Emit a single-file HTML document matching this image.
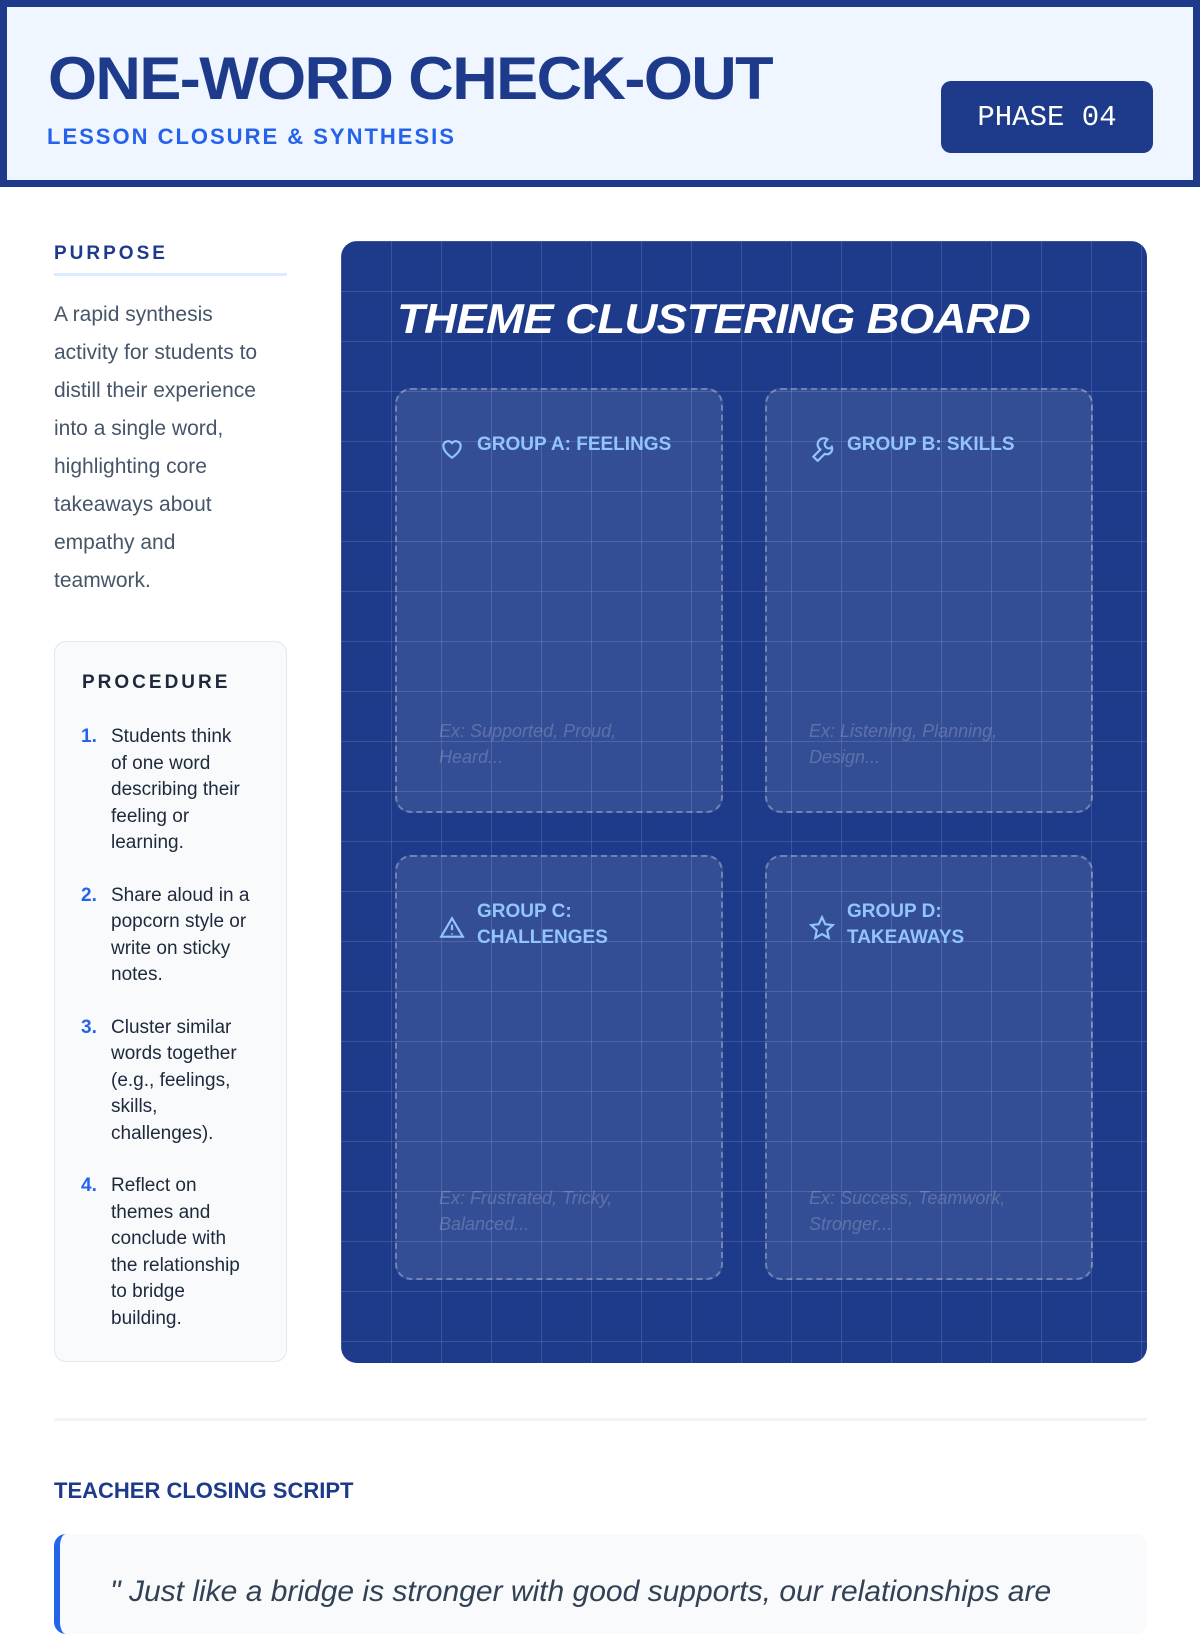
<!DOCTYPE html>
<html><head><meta charset="utf-8"><style>
*{margin:0;padding:0;box-sizing:border-box}
body{width:1200px;height:1600px;overflow:hidden;background:#fff;font-family:"Liberation Sans",sans-serif;position:relative}
.abs{position:absolute}
.hdr{left:0;top:0;width:1200px;height:187px;background:#eff6ff;border:7px solid #1e3a8a}
.title{left:48px;top:44px;font-size:60px;font-weight:900;color:#1e3a8a;letter-spacing:-1.5px;transform:scaleX(1.05);transform-origin:left;white-space:nowrap}
.sub{left:47px;top:124px;font-size:22px;font-weight:bold;color:#2563eb;letter-spacing:2px}
.badge{left:941px;top:81px;width:212px;height:72px;background:#1e3a8a;border-radius:10px;color:#fff;font-family:"Liberation Mono",monospace;font-size:29px;display:flex;align-items:center;justify-content:center}
.lbl{font-size:19px;font-weight:bold;color:#1e3a8a;letter-spacing:3px}
.para{left:54px;top:296px;width:260px;font-size:21px;line-height:38px;color:#475569;white-space:nowrap}
.proc{left:54px;top:641px;width:233px;height:721px;background:#f8fafc;border:1px solid #e2e8f0;border-radius:12px}
.proc ol{list-style:none;position:absolute;left:26px;top:82px;width:190px}
.proc li{position:relative;padding-left:30px;font-size:19px;line-height:26.5px;color:#1e293b;margin-bottom:26px;white-space:nowrap}
.proc li b{position:absolute;left:0;color:#2563eb}
.board{left:341px;top:241px;width:806px;height:1122px;border-radius:16px;overflow:hidden;background-color:#1e3a8a;background-image:linear-gradient(rgba(255,255,255,.13) 1px,transparent 1px),linear-gradient(90deg,rgba(255,255,255,.13) 1px,transparent 1px);background-size:50px 50px;background-position:0 0}
.bt{left:56px;top:54px;font-size:42px;font-weight:900;font-style:italic;color:#fff;letter-spacing:-0.5px;transform:scaleX(1.08);transform-origin:left;white-space:nowrap}
.grp{width:328px;height:425px;border:2px dashed rgba(255,255,255,.3);background:rgba(255,255,255,.1);border-radius:16px}
.gh{position:absolute;left:80px;top:42px;font-size:19px;font-weight:bold;color:#93c5fd;line-height:26px;width:200px}
.gi{position:absolute;left:42px;top:46px}
.ex{position:absolute;left:42px;top:328px;font-size:18px;font-style:italic;color:rgba(255,255,255,.2);line-height:26px;width:230px}
</style></head><body>
<div class="abs hdr"></div>
<div class="abs title">ONE-WORD CHECK-OUT</div>
<div class="abs sub">LESSON CLOSURE &amp; SYNTHESIS</div>
<div class="abs badge">PHASE 04</div>

<div class="abs lbl" style="left:54px;top:243px">PURPOSE</div>
<div class="abs" style="left:54px;top:273px;width:233px;height:3px;background:#dbeafe"></div>
<div class="abs para">A rapid synthesis<br>activity for students to<br>distill their experience<br>into a single word,<br>highlighting core<br>takeaways about<br>empathy and<br>teamwork.</div>

<div class="abs proc">
<div class="abs lbl" style="left:27px;top:30px;color:#1e293b">PROCEDURE</div>
<ol>
<li><b>1.</b>Students think<br>of one word<br>describing their<br>feeling or<br>learning.</li>
<li><b>2.</b>Share aloud in a<br>popcorn style or<br>write on sticky<br>notes.</li>
<li><b>3.</b>Cluster similar<br>words together<br>(e.g., feelings,<br>skills,<br>challenges).</li>
<li><b>4.</b>Reflect on<br>themes and<br>conclude with<br>the relationship<br>to bridge<br>building.</li>
</ol></div>

<div class="abs board">
<div class="abs bt">THEME CLUSTERING BOARD</div>
<div class="abs grp" style="left:54px;top:147px">
<svg class="gi" width="26" height="26" viewBox="0 0 24 24" fill="none" stroke="#93c5fd" stroke-width="2"><path d="M12 20s-8-5-8-11a4.5 4.5 0 0 1 8-2.5A4.5 4.5 0 0 1 20 9c0 6-8 11-8 11z"/></svg>
<div class="gh">GROUP A: FEELINGS</div><div class="ex">Ex: Supported, Proud, Heard...</div></div>
<div class="abs grp" style="left:424px;top:147px">
<svg class="gi" width="26" height="26" viewBox="0 0 24 24" fill="none" stroke="#93c5fd" stroke-width="2"><path d="M14.7 6.3a4 4 0 0 0 5 5L21 10a5 5 0 0 1-6.5 6.5L8 23l-4-4 6.5-6.5A5 5 0 0 1 17 3z"/></svg>
<div class="gh">GROUP B: SKILLS</div><div class="ex">Ex: Listening, Planning, Design...</div></div>
<div class="abs grp" style="left:54px;top:614px">
<svg class="gi" width="26" height="26" viewBox="0 0 24 24" fill="none" stroke="#93c5fd" stroke-width="2" style="top:58px"><path d="M12 3L2 20h20z"/><path d="M12 9v5M12 17v1"/></svg>
<div class="gh">GROUP C:<br>CHALLENGES</div><div class="ex">Ex: Frustrated, Tricky, Balanced...</div></div>
<div class="abs grp" style="left:424px;top:614px">
<svg class="gi" width="26" height="26" viewBox="0 0 24 24" fill="none" stroke="#93c5fd" stroke-width="2" style="top:58px"><path d="M12 2l3 6.5 7 .8-5.2 4.8 1.4 7L12 17.6 5.8 21.1l1.4-7L2 9.3l7-.8z"/></svg>
<div class="gh">GROUP D:<br>TAKEAWAYS</div><div class="ex">Ex: Success, Teamwork, Stronger...</div></div>
</div>

<div class="abs" style="left:54px;top:1418px;width:1093px;height:3px;background:#f1f5f9"></div>
<div class="abs" style="left:54px;top:1478px;font-size:22px;font-weight:900;color:#1e3a8a">TEACHER CLOSING SCRIPT</div>
<div class="abs" style="left:54px;top:1534px;width:1093px;height:100px;background:#f8fafc;border-left:6px solid #2563eb;border-radius:12px"></div>
<div class="abs" style="left:110px;top:1575px;font-size:30px;font-style:italic;color:#334155;white-space:nowrap">" Just like a bridge is stronger with good supports, our relationships are</div>
</body></html>
